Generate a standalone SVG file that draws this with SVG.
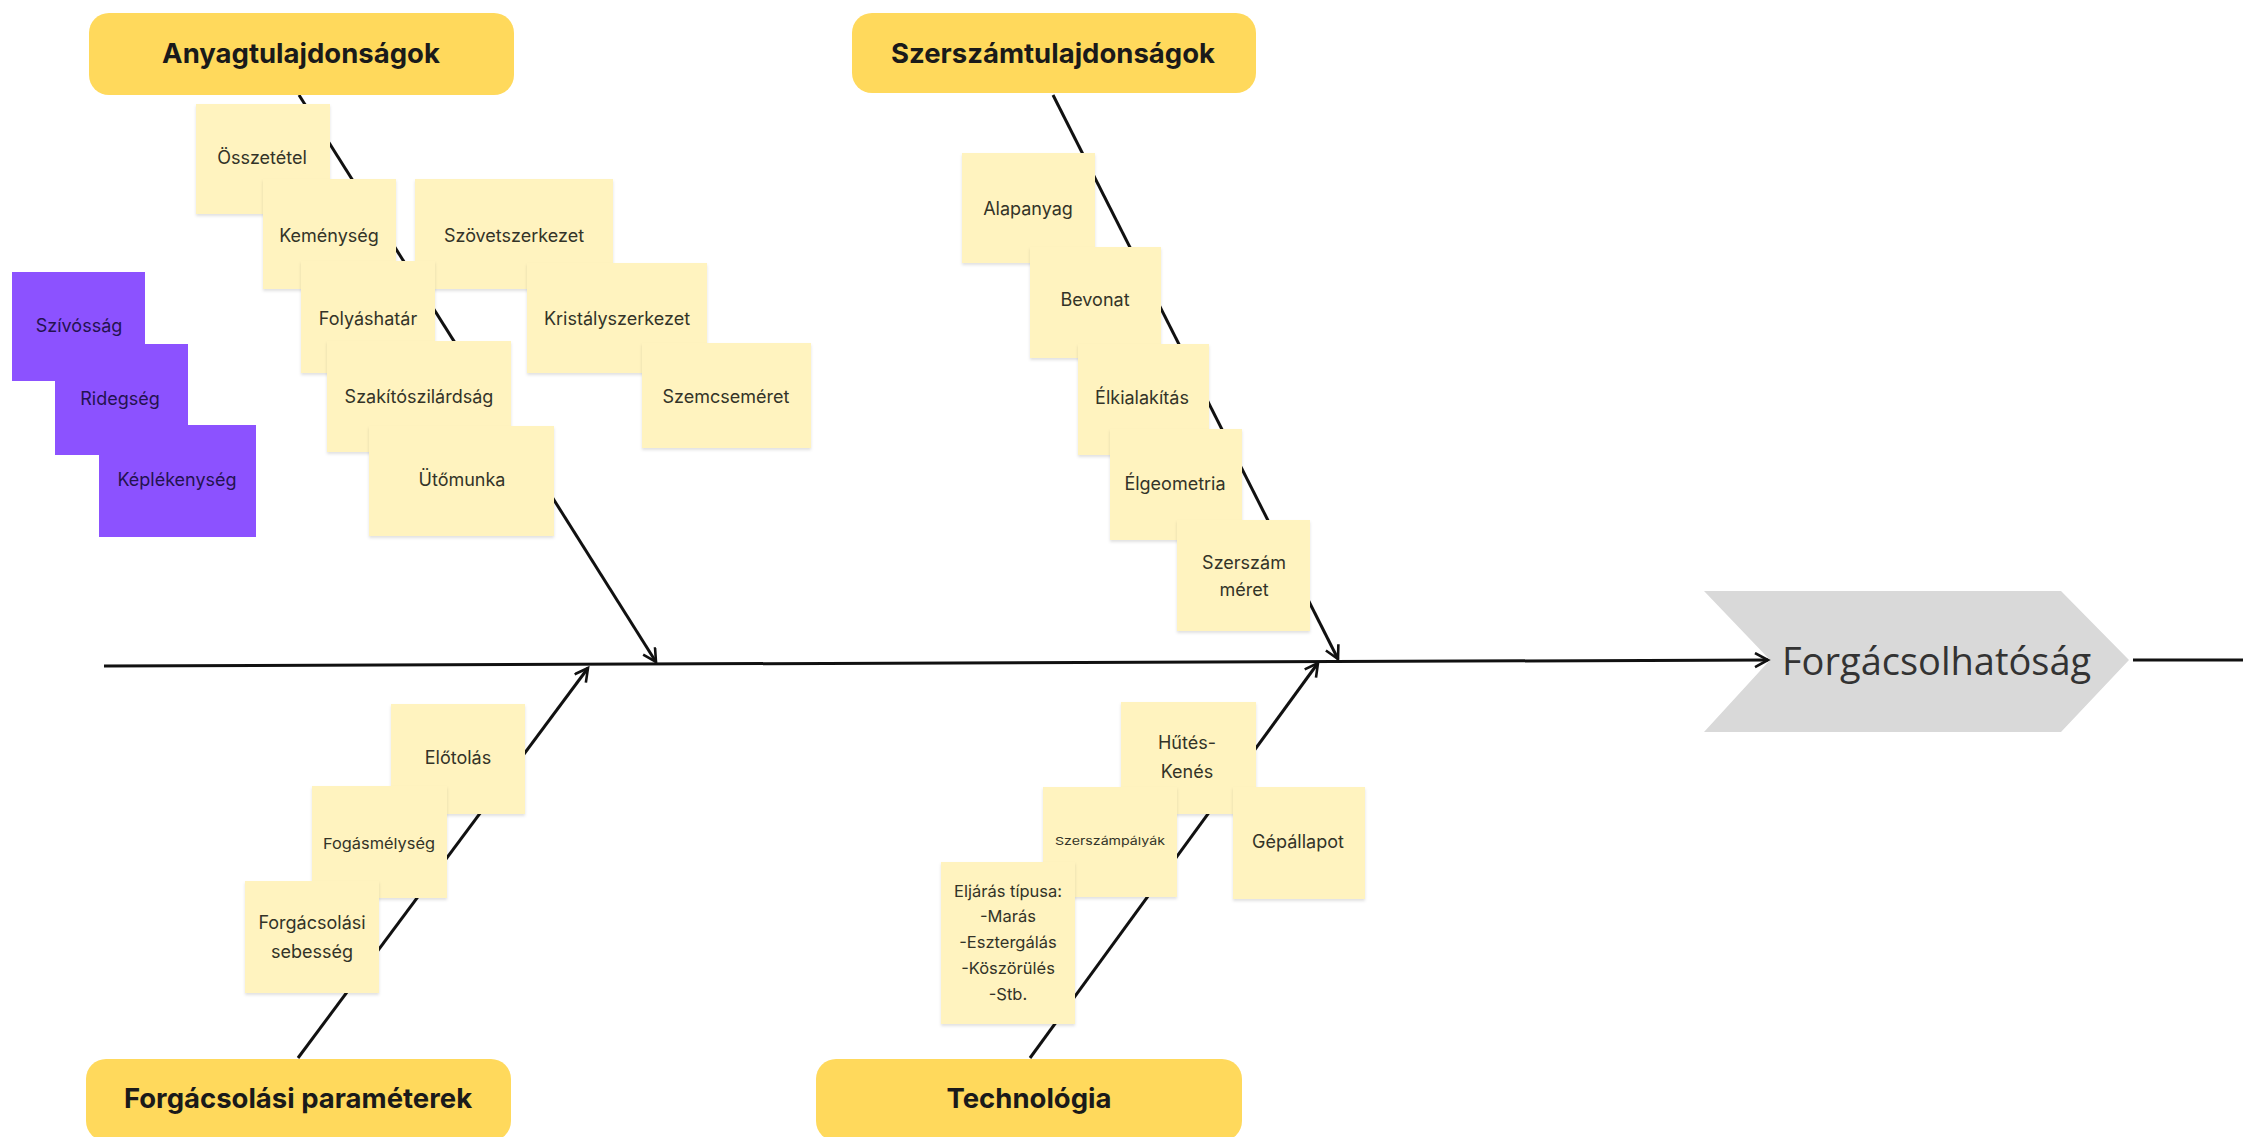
<svg xmlns="http://www.w3.org/2000/svg" width="2243" height="1137" viewBox="0 0 2243 1137">
  <defs>
    <style>
      .hdr { fill: #FFD95C; }
      .hdr-t { font-family: Inter, Lato, "Liberation Sans", sans-serif; font-weight: 700; font-size: 27.5px; fill: #1a1a1a; text-anchor: middle; dominant-baseline: central; }
      .note { fill: #FFF3BF; filter: url(#sh); }
      .pnote { fill: #8C52FF; }
      .nt { font-family: Inter, Lato, "Liberation Sans", sans-serif; font-size: 18px; fill: #333328; text-anchor: middle; dominant-baseline: central; }
      .pt { font-family: Inter, Lato, "Liberation Sans", sans-serif; font-size: 18px; fill: #24124f; text-anchor: middle; dominant-baseline: central; }
      .bone { stroke: #111; stroke-width: 3; fill: none; }
      .head { font-family: "Open Sans", "Noto Sans", sans-serif; font-size: 38px; fill: #333; dominant-baseline: central; }
    </style>
    <filter id="sh" x="-10%" y="-10%" width="120%" height="130%">
      <feDropShadow dx="0" dy="2" stdDeviation="1.5" flood-color="#000" flood-opacity="0.12"/>
    </filter>
    <marker id="arr" markerUnits="userSpaceOnUse" markerWidth="20" markerHeight="20" refX="15" refY="8" orient="auto">
      <path d="M2,1 L15,8 L2,15" fill="none" stroke="#111" stroke-width="2.6"/>
    </marker>
  </defs>

  <g id="effect">
    <polygon points="1704,591 2061,591 2129,660 2061,732 1704,732 1770,660" fill="#D9D9D9"/>
    <text class="head" x="1782" y="660">Forgácsolhatóság</text>
  </g>

  <g id="connectors">
    <line class="bone" x1="104" y1="666" x2="1768" y2="660" marker-end="url(#arr)"/>
    <line class="bone" x1="2133" y1="660" x2="2243" y2="660"/>
    <line class="bone" x1="299" y1="95" x2="656" y2="662" marker-end="url(#arr)"/>
    <line class="bone" x1="1053" y1="95" x2="1338" y2="659" marker-end="url(#arr)"/>
    <line class="bone" x1="298" y1="1058" x2="588" y2="668" marker-end="url(#arr)"/>
    <line class="bone" x1="1030" y1="1058" x2="1318" y2="663" marker-end="url(#arr)"/>
  </g>

  <g id="cat-anyag">
    <rect class="hdr" x="89" y="13" width="425" height="82" rx="20"/>
    <text class="hdr-t" x="301" y="53">Anyagtulajdonságok</text>
  </g>
  <g id="cat-szerszam">
    <rect class="hdr" x="852" y="13" width="404" height="80" rx="20"/>
    <text class="hdr-t" x="1053" y="53">Szerszámtulajdonságok</text>
  </g>
  <g id="cat-param">
    <rect class="hdr" x="86" y="1059" width="425" height="82" rx="20"/>
    <text class="hdr-t" x="298" y="1098">Forgácsolási paraméterek</text>
  </g>
  <g id="cat-tech">
    <rect class="hdr" x="816" y="1059" width="426" height="82" rx="20"/>
    <text class="hdr-t" x="1029" y="1098">Technológia</text>
  </g>

  <!-- Anyagtulajdonságok notes -->
  <g id="n-osszetetel"><rect class="note" x="196" y="104" width="134" height="110"/><text class="nt" x="262" y="157">Összetétel</text></g>
  <g id="n-kemenyseg"><rect class="note" x="263" y="179" width="133" height="110"/><text class="nt" x="329" y="235">Keménység</text></g>
  <g id="n-szovet"><rect class="note" x="415" y="179" width="198" height="110"/><text class="nt" x="514" y="235">Szövetszerkezet</text></g>
  <g id="n-folyas"><rect class="note" x="301" y="261" width="134" height="112"/><text class="nt" x="368" y="318">Folyáshatár</text></g>
  <g id="n-kristaly"><rect class="note" x="527" y="263" width="180" height="110"/><text class="nt" x="617" y="318">Kristályszerkezet</text></g>
  <g id="n-szakito"><rect class="note" x="327" y="341" width="184" height="111"/><text class="nt" x="419" y="396">Szakítószilárdság</text></g>
  <g id="n-szemcse"><rect class="note" x="642" y="343" width="169" height="105"/><text class="nt" x="726" y="396">Szemcseméret</text></g>
  <g id="n-utomunka"><rect class="note" x="369" y="426" width="185" height="110"/><text class="nt" x="462" y="479">Ütőmunka</text></g>

  <!-- purple notes -->
  <g id="p-szivossag"><rect class="pnote" x="12" y="272" width="133" height="109"/><text class="pt" x="79" y="325">Szívósság</text></g>
  <g id="p-ridegseg"><rect class="pnote" x="55" y="344" width="133" height="111"/><text class="pt" x="120" y="398">Ridegség</text></g>
  <g id="p-keplekenyseg"><rect class="pnote" x="99" y="425" width="157" height="112"/><text class="pt" x="177" y="479">Képlékenység</text></g>

  <!-- Szerszámtulajdonságok notes -->
  <g id="n-alapanyag"><rect class="note" x="962" y="153" width="133" height="110"/><text class="nt" x="1028" y="208">Alapanyag</text></g>
  <g id="n-bevonat"><rect class="note" x="1030" y="247" width="131" height="111"/><text class="nt" x="1095" y="299">Bevonat</text></g>
  <g id="n-elkialakitas"><rect class="note" x="1078" y="344" width="131" height="111"/><text class="nt" x="1142" y="397">Élkialakítás</text></g>
  <g id="n-elgeometria"><rect class="note" x="1110" y="429" width="132" height="111"/><text class="nt" x="1175" y="483">Élgeometria</text></g>
  <g id="n-szerszammeret"><rect class="note" x="1177" y="520" width="133" height="111"/><text class="nt" x="1244" y="562">Szerszám</text><text class="nt" x="1244" y="589">méret</text></g>

  <!-- Forgácsolási paraméterek notes -->
  <g id="n-elotolas"><rect class="note" x="391" y="704" width="134" height="110"/><text class="nt" x="458" y="757">Előtolás</text></g>
  <g id="n-fogasmelyseg"><rect class="note" x="312" y="786" width="135" height="112"/><text class="nt" x="379" y="843" style="font-size:15px" textLength="112" lengthAdjust="spacingAndGlyphs">Fogásmélység</text></g>
  <g id="n-sebesseg"><rect class="note" x="245" y="881" width="134" height="112"/><text class="nt" x="312" y="922">Forgácsolási</text><text class="nt" x="312" y="951">sebesség</text></g>

  <!-- Technológia notes -->
  <g id="n-hutes"><rect class="note" x="1121" y="702" width="135" height="112"/><text class="nt" x="1187" y="742">Hűtés-</text><text class="nt" x="1187" y="771">Kenés</text></g>
  <g id="n-palyak"><rect class="note" x="1043" y="787" width="134" height="110"/><text class="nt" x="1110" y="841" style="font-size:11px" textLength="110" lengthAdjust="spacingAndGlyphs">Szerszámpályák</text></g>
  <g id="n-gepallapot"><rect class="note" x="1233" y="787" width="132" height="112"/><text class="nt" x="1298" y="841">Gépállapot</text></g>
  <g id="n-eljaras"><rect class="note" x="941" y="862" width="134" height="162"/>
    <text class="nt" style="font-size:16.5px" x="1008" y="891">Eljárás típusa:</text>
    <text class="nt" style="font-size:16.5px" x="1008" y="916">-Marás</text>
    <text class="nt" style="font-size:16.5px" x="1008" y="942">-Esztergálás</text>
    <text class="nt" style="font-size:16.5px" x="1008" y="968">-Köszörülés</text>
    <text class="nt" style="font-size:16.5px" x="1008" y="994">-Stb.</text>
  </g>
</svg>
